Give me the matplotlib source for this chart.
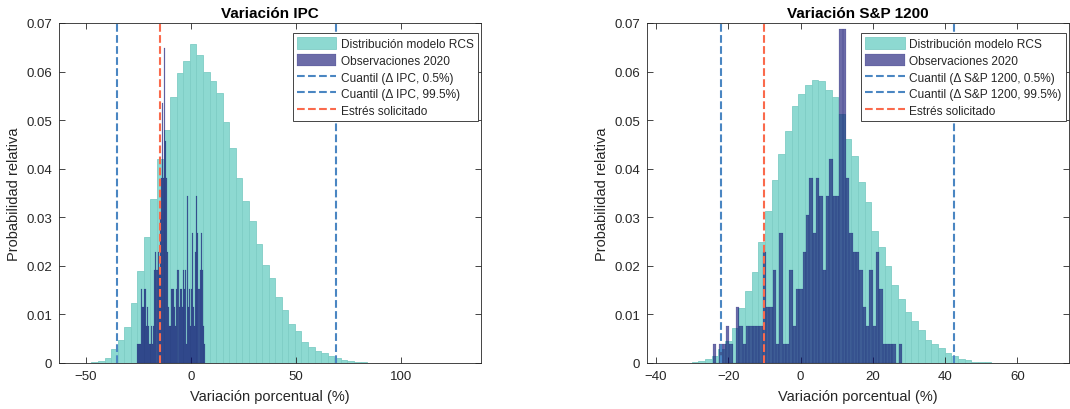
import numpy as np
import matplotlib
matplotlib.use('Agg')
import matplotlib.pyplot as plt

plt.rcParams['font.family'] = ['Liberation Sans', 'DejaVu Sans']

# ---------------- Data: Variación IPC ----------------
ipc_model_start = -50.6
ipc_model_width = 3.125
ipc_model_prob = [0.0001, 0.0003, 0.0005, 0.0010, 0.0029, 0.0047, 0.0075, 0.0123,
                  0.0189, 0.0259, 0.0338, 0.0420, 0.0480, 0.0547, 0.0598, 0.0622,
                  0.0657, 0.0634, 0.0600, 0.0580, 0.0555, 0.0496, 0.0442, 0.0381,
                  0.0333, 0.0293, 0.0246, 0.0202, 0.0176, 0.0135, 0.0109, 0.0080,
                  0.0065, 0.0044, 0.0032, 0.0025, 0.0020, 0.0014, 0.0010, 0.0007,
                  0.0005, 0.0003, 0.0002, 0.0001, 0.0001]
ipc_obs_start = -26.0
ipc_obs_width = 0.5
ipc_obs_counts = [1, 1, 1, 1, 4, 3, 3, 4, 4, 2, 3, 2, 1, 1, 2, 1, 2, 5, 6, 5,
                  6, 5, 8, 10, 14, 10, 17, 12, 10, 6, 3, 2, 2, 4, 4, 4, 3, 2, 4, 5,
                  3, 4, 4, 3, 5, 4, 5, 1, 9, 3, 4, 2, 4, 7, 3, 2, 6, 9, 7, 4,
                  5, 7, 5, 2, 1]
ipc_n_obs = 262
ipc_q005 = -35.2
ipc_q995 = 69.0
ipc_stress = -15.0

# ---------------- Data: Variación S&P 1200 ----------------
sp_model_start = -32.0
sp_model_width = 1.844
sp_model_prob = [0.0001, 0.0002, 0.0005, 0.0008, 0.0015, 0.0029, 0.0045, 0.0073,
                 0.0113, 0.0148, 0.0188, 0.0250, 0.0313, 0.0377, 0.0430, 0.0477,
                 0.0530, 0.0553, 0.0572, 0.0583, 0.0580, 0.0563, 0.0548, 0.0513,
                 0.0461, 0.0427, 0.0372, 0.0331, 0.0272, 0.0238, 0.0199, 0.0161,
                 0.0131, 0.0106, 0.0086, 0.0067, 0.0048, 0.0039, 0.0031, 0.0021,
                 0.0014, 0.0008, 0.0006, 0.0003, 0.0003, 0.0002]
sp_obs_start = -24.34
sp_obs_width = 0.922
sp_obs_counts = [1, 0, 1, 1, 2, 1, 0, 3, 2, 1, 2, 2, 2, 2, 2, 6, 3, 3, 5, 1,
                 7, 1, 1, 5, 2, 4, 4, 6, 8, 10, 7, 10, 9, 5, 9, 11, 9, 9, 18, 18,
                 10, 7, 6, 6, 5, 3, 2, 5, 2, 6, 4, 1, 1, 1, 1, 0, 1]
sp_n_obs = 262
sp_q005 = -21.9
sp_q995 = 42.4
sp_stress = -10.0

# ---------------- Styles ----------------
TEAL = '#8dd9d1'
TEAL_EDGE = '#7fcdc5'
NAVY = '#0a0a6e'
BLUE = '#4a86c2'
RED = '#fa6a4c'
DARK = '#262626'


def panel(ax, title, name, m_start, m_width, m_prob, o_start, o_width, o_counts,
          n_obs, q005, q995, stress, xlim, xticks, leg_x):
    m_edges = m_start + m_width * np.arange(len(m_prob) + 1)
    m_centers = m_edges[:-1] + m_width / 2
    ax.hist(m_centers, bins=m_edges, weights=m_prob, color=TEAL,
            edgecolor=TEAL_EDGE, linewidth=0.6, label='Distribución modelo RCS',
            zorder=1)
    o_edges = o_start + o_width * np.arange(len(o_counts) + 1)
    o_centers = o_edges[:-1] + o_width / 2
    o_w = np.array(o_counts, dtype=float) / n_obs
    ax.hist(o_centers, bins=o_edges, weights=o_w, color=NAVY, alpha=0.6,
            edgecolor=NAVY, linewidth=0.15, label='Observaciones 2020', zorder=2)
    ax.axvline(q005, color=BLUE, ls='--', lw=1.5,
               label=f'Cuantil (\u0394 {name}, 0.5%)', zorder=3)
    ax.axvline(q995, color=BLUE, ls='--', lw=1.5,
               label=f'Cuantil (\u0394 {name}, 99.5%)', zorder=3)
    ax.axvline(stress, color=RED, ls='--', lw=1.5, label='Estrés solicitado',
               zorder=3)
    ax.set_xlim(*xlim)
    ax.set_ylim(0, 0.07)
    ax.set_xticks(xticks)
    ax.set_yticks(np.arange(0, 0.0701, 0.01))
    ax.yaxis.set_major_formatter(plt.FuncFormatter(
        lambda v, p: '0' if abs(v) < 1e-12 else f'{v:.2f}'))
    ax.tick_params(direction='in', top=True, right=True, length=4, width=0.6,
                   color=DARK, labelcolor=DARK, labelsize=9.5, pad=5)
    for s in ax.spines.values():
        s.set_color(DARK)
        s.set_linewidth(0.6)
    ax.set_title(title, fontsize=11, fontweight='bold', color='black', pad=4)
    ax.set_xlabel('Variación porcentual (%)', fontsize=10.5, color=DARK,
                  labelpad=5)
    ax.set_ylabel('Probabilidad relativa', fontsize=10.5, color=DARK, labelpad=4)
    leg = ax.legend(loc='upper right', bbox_to_anchor=(leg_x, 0.97),
                    fontsize=8.6, handlelength=3.3, handleheight=1.1,
                    borderpad=0.35, labelspacing=0.33, handletextpad=0.4,
                    borderaxespad=0, fancybox=False, framealpha=1,
                    edgecolor='#444444')
    leg.get_frame().set_linewidth(0.7)
    for t in leg.get_texts():
        t.set_color(DARK)


fig = plt.figure(figsize=(10.7, 4.1), dpi=100)
ax1 = fig.add_axes([59 / 1070, 46 / 410, 422 / 1070, 340 / 410])
ax2 = fig.add_axes([647 / 1070, 46 / 410, 422 / 1070, 340 / 410])

panel(ax1, 'Variación IPC', 'IPC', ipc_model_start, ipc_model_width,
      ipc_model_prob, ipc_obs_start, ipc_obs_width, ipc_obs_counts, ipc_n_obs,
      ipc_q005, ipc_q995, ipc_stress, (-62.9, 138.0), [-50, 0, 50, 100], 0.993)
panel(ax2, 'Variación S&P 1200', 'S&P 1200', sp_model_start, sp_model_width,
      sp_model_prob, sp_obs_start, sp_obs_width, sp_obs_counts, sp_n_obs,
      sp_q005, sp_q995, sp_stress, (-42.5, 74.3), [-40, -20, 0, 20, 40, 60],
      0.993)

fig.savefig('out.png', dpi=100)
